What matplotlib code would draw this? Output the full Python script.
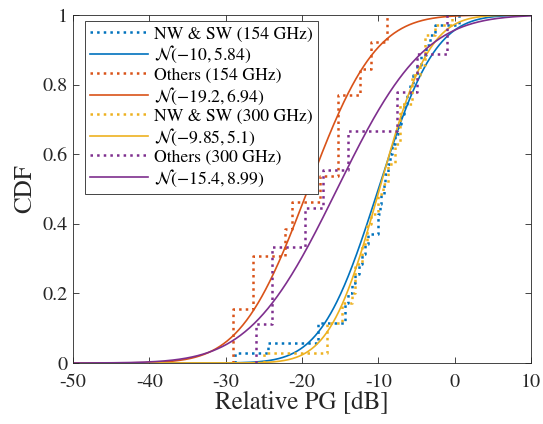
import math
import numpy as np
import matplotlib
matplotlib.use("Agg")
import matplotlib.pyplot as plt

plt.rcParams['font.family'] = ['STIXGeneral', 'DejaVu Sans']
plt.rcParams['mathtext.fontset'] = 'stix'

# Samples (relative PG in dB)
nwsw_154 = [-28.8, -24.5, -17.9, -17.9, -14.4, -14.4,
            -14.0, -13.5, -13.0, -12.6, -12.2, -11.8, -11.4,
            -10.1, -10.1, -9.8, -9.6, -9.3, -9.1, -8.8, -8.5,
            -8.2, -7.8, -7.4, -7.0, -6.6, -6.2, -5.8, -5.4,
            -5.0, -4.4, -3.8, -3.2, -2.6, 0.5]
others_154 = [-29.05, -29.05, -26.4, -26.4, -22.25, -21.3, -17.7,
              -15.3, -15.3, -15.3, -12.4, -10.9, -8.9]
nwsw_300 = [-25.0, -16.75, -16.75, -16.75, -14.8, -14.8, -13.5,
            -13.1, -13.1, -13.1, -12.2, -12.2, -11.5, -11.5, -10.9,
            -10.1, -10.1, -9.4, -8.8, -8.8, -7.85, -7.85,
            -7.2, -7.2, -7.2, -7.2, -5.6, -5.6, -5.6, -4.5,
            -3.9, -3.9, -3.9, -2.6, -0.4]
others_300 = [-26.05, -23.95, -23.95, -19.6, -17.3, -14.0, -7.6, -5.0, -1.05]

# fitted normal parameters (mean, std) from the legend
fits = [(-10, 5.84), (-19.2, 6.94), (-9.85, 5.1), (-15.4, 8.99)]
names = ['NW & SW (154 GHz)', 'Others (154 GHz)', 'NW & SW (300 GHz)', 'Others (300 GHz)']
fit_labels = [r'$\mathcal{N}(-10, 5.84)$', r'$\mathcal{N}(-19.2, 6.94)$',
              r'$\mathcal{N}(-9.85, 5.1)$', r'$\mathcal{N}(-15.4, 8.99)$']
colors = ['#0072BD', '#D95319', '#EDB120', '#7E2F8E']
samples = [nwsw_154, others_154, nwsw_300, others_300]


def ecdf(data):
    d = np.sort(np.array(data))
    u, counts = np.unique(d, return_counts=True)
    F = np.cumsum(counts) / len(d)
    xs = np.concatenate([[u[0]], u])
    ys = np.concatenate([[0.0], F])
    return xs, ys


def norm_cdf(x, mu, sigma):
    erf = np.frompyfunc(math.erf, 1, 1)
    return 0.5 * (1 + erf((x - mu) / (sigma * math.sqrt(2))).astype(float))


fig = plt.figure(figsize=(5.43, 4.24), dpi=100)
ax = fig.add_axes([0.1344, 0.1439, 0.8436, 0.8207])

xx = np.linspace(-50, 10, 600)
for data, (mu, sd), name, flab, c in zip(samples, fits, names, fit_labels, colors):
    xs, ys = ecdf(data)
    ax.step(xs, ys, where='post', linestyle=':', color=c, lw=1.8, label=name)
    ax.plot(xx, norm_cdf(xx, mu, sd), color=c, lw=1.2, label=flab)

ax.set_xlim(-50, 10)
ax.set_ylim(0, 1)
ax.set_xticks(np.arange(-50, 11, 10))
ax.set_xticklabels(['-50', '-40', '-30', '-20', '-10', '0', '10'])
ax.set_yticks([0, 0.2, 0.4, 0.6, 0.8, 1])
ax.set_yticklabels(['0', '0.2', '0.4', '0.6', '0.8', '1'])
ax.tick_params(direction='in', top=True, right=True, labelsize=14.5,
               colors='#262626', length=4, width=0.6)
ax.tick_params(axis='x', pad=7.5)
for s in ax.spines.values():
    s.set_color('#262626')
    s.set_linewidth(0.6)
ax.set_xlabel('Relative PG [dB]', fontsize=18, color='#262626', labelpad=0)
ax.set_ylabel('CDF', fontsize=18, color='#262626', labelpad=4)

leg = ax.legend(loc='upper left', bbox_to_anchor=(0.026, 0.983), borderaxespad=0,
                fontsize=12.7, handlelength=3.3, handletextpad=0.3,
                labelspacing=0.1, borderpad=0.3, fancybox=False, framealpha=1)
leg.get_frame().set_edgecolor('#262626')
leg.get_frame().set_linewidth(0.6)

fig.savefig('out.png', dpi=100)
